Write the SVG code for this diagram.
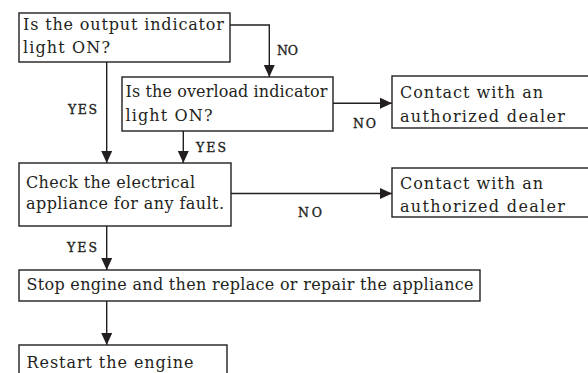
<svg xmlns="http://www.w3.org/2000/svg" width="588" height="373" viewBox="0 0 588 373">
<defs>
<marker id="ah" viewBox="0 0 12 12" refX="12" refY="6" markerWidth="12" markerHeight="12" markerUnits="userSpaceOnUse" orient="auto">
<path d="M0,0.5 L12,6 L0,11.5 Z" fill="#231f20"/>
</marker>
<style>
.box{fill:#fff;stroke:#231f20;stroke-width:1.4}
.t{font-family:"DejaVu Serif","Liberation Serif",serif;font-size:16px;fill:#231f20}
.l{font-family:"DejaVu Serif","Liberation Serif",serif;font-size:12.5px;fill:#231f20;stroke:#231f20;stroke-width:0.35}
.c{fill:none;stroke:#231f20;stroke-width:1.4}
</style>
</defs>
<rect width="588" height="373" fill="#fff"/>
<g id="connectors">
<path class="c" d="M230,25 H269.3 V77" marker-end="url(#ah)"/>
<path class="c" d="M106.7,62 V163" marker-end="url(#ah)"/>
<path class="c" d="M183.3,131 V163" marker-end="url(#ah)"/>
<path class="c" d="M333,103.3 H392" marker-end="url(#ah)"/>
<path class="c" d="M231,193.5 H392" marker-end="url(#ah)"/>
<path class="c" d="M106.7,226 V270" marker-end="url(#ah)"/>
<path class="c" d="M106.7,301 V345" marker-end="url(#ah)"/>
<text class="l" x="277" y="55" textLength="21">NO</text>
<text class="l" x="68" y="113.5" textLength="29">YES</text>
<text class="l" x="196" y="152" textLength="30">YES</text>
<text class="l" x="353" y="127.5" textLength="23">NO</text>
<text class="l" x="298" y="217" textLength="24">NO</text>
<text class="l" x="67" y="252" textLength="30">YES</text>
</g>
<g id="n1">
<rect class="box" x="19" y="13" width="211" height="49"/>
<text class="t" x="23" y="30" textLength="201">Is the output indicator</text>
<text class="t" x="23" y="52.5" textLength="87">light ON?</text>
</g>
<g id="n2">
<rect class="box" x="122" y="77" width="211" height="54"/>
<text class="t" x="125.5" y="96.5" textLength="202">Is the overload indicator</text>
<text class="t" x="125.5" y="120.5" textLength="87">light ON?</text>
</g>
<g id="n3">
<rect class="box" x="392" y="76" width="210" height="52"/>
<text class="t" x="400" y="97.5" textLength="143">Contact with an</text>
<text class="t" x="400" y="121.5" textLength="165">authorized dealer</text>
</g>
<g id="n4">
<rect class="box" x="19" y="163" width="212" height="63"/>
<text class="t" x="26" y="187.5" textLength="169">Check the electrical</text>
<text class="t" x="26" y="209" textLength="198">appliance for any fault.</text>
</g>
<g id="n5">
<rect class="box" x="392" y="168" width="210" height="49"/>
<text class="t" x="400" y="188.5" textLength="143">Contact with an</text>
<text class="t" x="400" y="212" textLength="165">authorized dealer</text>
</g>
<g id="n6">
<rect class="box" x="19" y="270" width="461" height="31"/>
<text class="t" x="26.5" y="290" textLength="447">Stop engine and then replace or repair the appliance</text>
</g>
<g id="n7">
<rect class="box" x="19" y="345" width="208" height="40"/>
<text class="t" x="26.5" y="367.5" textLength="167">Restart the engine</text>
</g>
</svg>
